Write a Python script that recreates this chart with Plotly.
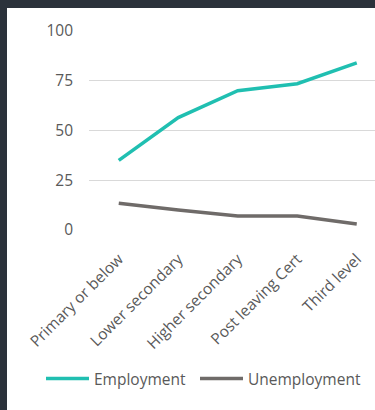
import plotly.graph_objects as go

categories = ["Primary or below", "Lower secondary", "Higher secondary", "Post leaving Cert", "Third level"]
employment = [35, 56.5, 70, 73.5, 84]
unemployment = [13.5, 10, 7, 7, 3]
y_ticks = [0, 25, 50, 75, 100]

L, T, B = 89, 31, 180
H = 410 - T - B
W = 375 - L
DARK = "#2b323b"

def px_x(p):
    return (p - L) / W

def px_y(p):
    return 1 - (p - T) / H

fig = go.Figure()
fig.add_trace(go.Scatter(x=categories, y=employment, mode="lines", name="Employment",
                         line=dict(color="#20bfb1", width=3.5), legend="legend"))
fig.add_trace(go.Scatter(x=categories, y=unemployment, mode="lines", name="Unemployment",
                         line=dict(color="#6f6b69", width=3.5), legend="legend2"))

# dark frame bands (top and left)
fig.add_shape(type="rect", xref="paper", yref="paper",
              x0=px_x(-5), x1=px_x(380), y0=px_y(8), y1=px_y(-5),
              fillcolor=DARK, line=dict(width=0), layer="above")
fig.add_shape(type="rect", xref="paper", yref="paper",
              x0=px_x(-5), x1=px_x(7), y0=px_y(415), y1=px_y(-5),
              fillcolor=DARK, line=dict(width=0), layer="above")

font = "Open Sans, Segoe UI, sans-serif"
leg_common = dict(orientation="h", yanchor="middle", xanchor="left", y=px_y(379),
                  font=dict(size=15.5, color="#595959"), itemwidth=43,
                  bgcolor="rgba(0,0,0,0)", borderwidth=0)
fig.update_layout(
    width=375, height=410,
    margin=dict(l=L, r=0, t=T, b=B, pad=0, autoexpand=False),
    paper_bgcolor="white", plot_bgcolor="white",
    font=dict(family=font, size=15, color="#595959"),
    showlegend=True,
    legend=dict(x=px_x(41), **leg_common),
    legend2=dict(x=px_x(195), **leg_common),
    xaxis=dict(range=[-0.5, -0.5 + W / 59.5], showgrid=False, zeroline=False,
               showline=False, tickangle=-45, ticks="", tickfont=dict(size=15.5, color="#595959"),
               ticklabelstandoff=16),
    yaxis=dict(range=[0, 100], tickvals=y_ticks, showgrid=True, gridcolor="#d9d9d9",
               gridwidth=1, zeroline=False, showline=False, ticks="",
               tickfont=dict(size=15.5, color="#595959"), ticklabelstandoff=15),
)
fig.write_html("out.html", config={"displayModeBar": False},
               post_script="document.body.style.margin='0';document.body.style.overflow='hidden';document.body.style.background='" + DARK + "';")
